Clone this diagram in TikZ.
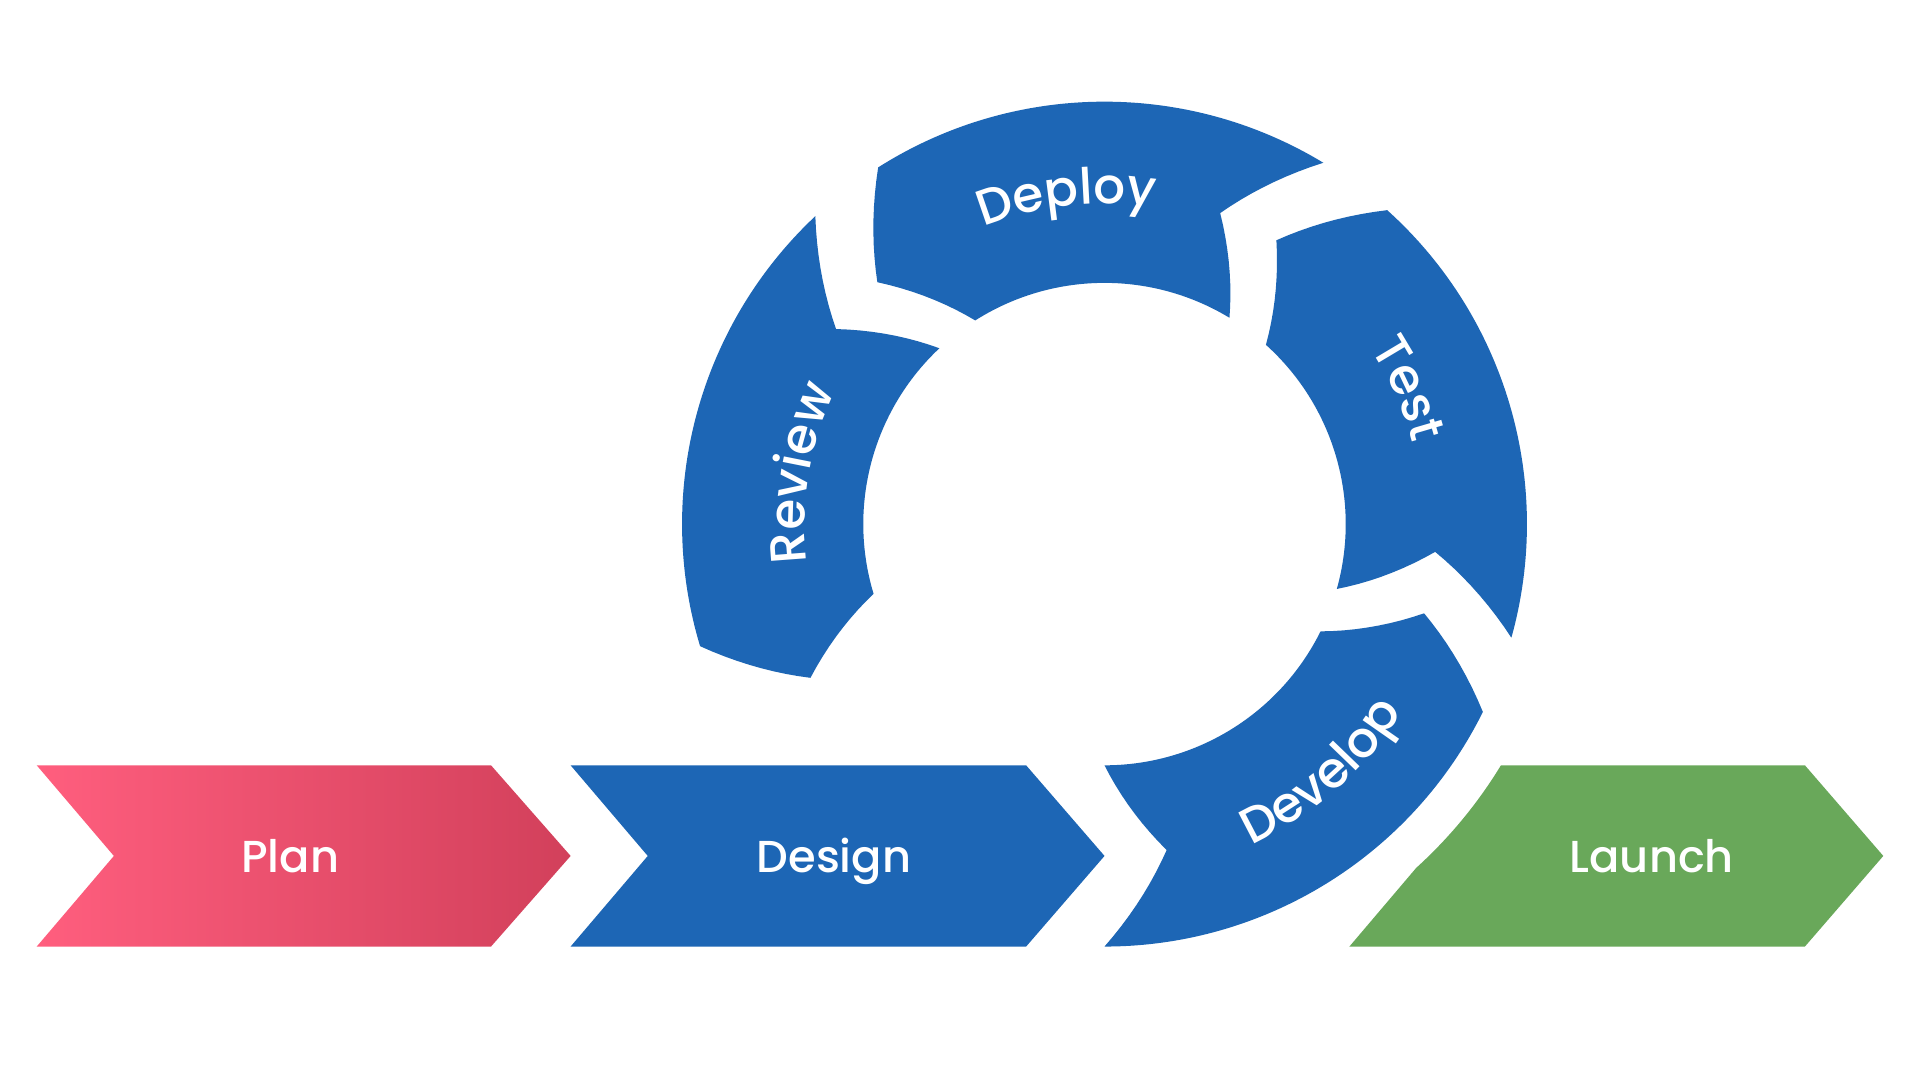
\documentclass[tikz,border=0pt]{standalone}
\usepackage{xcolor}
\usepackage{fontspec}
\setmainfont{Poppins}
\newfontfamily\stagefamily{Poppins Medium}
\newfontfamily\arcfamily{Poppins Medium}[LetterSpace=5]
\usepackage{tikz}
\usetikzlibrary{calc,positioning,decorations.text}
\definecolor{CycleBlue}{HTML}{1D66B5}
\definecolor{LaunchGreen}{HTML}{69A85A}
\definecolor{PlanLight}{HTML}{FF5E7E}
\definecolor{PlanDark}{HTML}{D2405B}
\newcommand{\stagefont}{\stagefamily\fontsize{10.4}{12}\selectfont}
\newcommand{\arcfont}{\arcfamily\fontsize{11.6}{14}\selectfont}

\begin{document}
\begin{tikzpicture}[
    stage/.style={text=white, font=\stagefont, anchor=base},
    arclabel/.style={decorate, decoration={text along path, text align=center, text color=white}}
]
    \useasboundingbox (0,0) rectangle (15.68,8.82);
    \fill[white] (0,0) rectangle (15.68,8.82);
    \coordinate (hub) at (9.02,4.54);

    % ring segments: notch at the tail, tip at the head (mid radius)
    \begin{scope}[shift={(hub)}]
        \foreach \tail in {-90,-15.6,58.8,133.2} {
            \pgfmathsetmacro{\head}{\tail+63.6}
            \fill[CycleBlue] (\tail:3.45) arc[start angle=\tail, end angle=\head, radius=3.45]
                -- plot[domain=0:1, samples=10] ({\head+10.8*\x}:{3.45-0.74*\x})
                -- plot[domain=0:1, samples=10] ({\head+10.8-10.8*\x}:{2.71-0.74*\x})
                arc[start angle=\head, end angle=\tail, radius=1.97]
                -- plot[domain=0:1, samples=10] ({\tail+10.8*\x}:{1.97+0.74*\x})
                -- plot[domain=0:1, samples=10] ({\tail+10.8-10.8*\x}:{2.71+0.74*\x})
                -- cycle;
        }
        \path[arclabel, decoration={text={|\arcfont|Deploy}}] (136.6:2.62) arc[start angle=136.6, end angle=56.6, radius=2.62];
        \path[arclabel, decoration={text={|\arcfont|Test}}] (64:2.6) arc[start angle=64, end angle=-16, radius=2.6];
        \path[arclabel, decoration={text={|\arcfont|Review}}] (210.5:2.45) arc[start angle=210.5, end angle=130.5, radius=2.45];
        \path[arclabel, decoration={text={|\arcfont|Develop}}] (-88.8:2.88) arc[start angle=-88.8, end angle=-8.8, radius=2.88];
    \end{scope}

    % stage chevrons
    \shade[left color=PlanLight, right color=PlanDark] (0.30,2.57) -- (4.01,2.57) -- (4.66,1.83) -- (4.01,1.09) -- (0.30,1.09) -- (0.93,1.83) -- cycle;
    \fill[CycleBlue] (4.66,2.57) -- (8.38,2.57) -- (9.02,1.83) -- (8.38,1.09) -- (4.66,1.09) -- (5.29,1.83) -- cycle;
    \fill[LaunchGreen] ($(hub)+(-31.32:3.79)$) -- (14.74,2.57) -- (15.38,1.83) -- (14.74,1.09) -- (11.02,1.09)
        -- ($(hub)+(-47.8:3.79)$) arc[start angle=-47.8, end angle=-31.32, radius=3.79] -- cycle;

    \node[stage] (plan) at (2.37,1.695) {Plan};
    \node[stage] (design) at (6.81,1.695) {Design};
    \node[stage] (launch) at (13.49,1.695) {Launch};
\end{tikzpicture}
\end{document}
